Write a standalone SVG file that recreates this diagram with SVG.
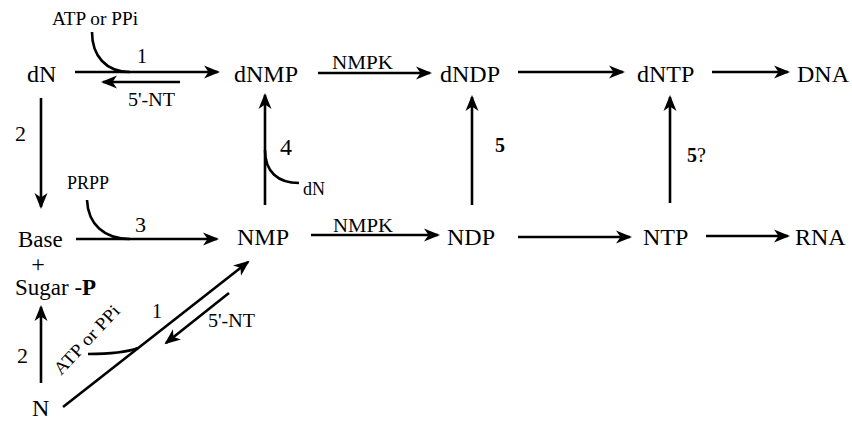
<svg xmlns="http://www.w3.org/2000/svg" width="852" height="421" viewBox="0 0 852 421" font-family="'Liberation Serif', 'Times New Roman', 'DejaVu Serif', serif">
<style>
text{font-family:"Liberation Serif","Times New Roman","DejaVu Serif",serif;fill:#000}
.n{font-size:24px}
.s{font-size:18px}
.b{font-weight:bold}
.c{fill:none;stroke:#000;stroke-width:2.6}
.a{fill:none;stroke:#000;stroke-width:2.6;marker-end:url(#ah)}
</style>
<defs>
<marker id="ah" markerUnits="userSpaceOnUse" markerWidth="20" markerHeight="16" viewBox="-17 -8 20 16" refX="-2" refY="0" orient="auto">
<path d="M0,0 L-16,-6.5 L-11.5,0 L-16,6.5 Z" fill="#000"/>
</marker>
</defs>
<rect width="852" height="421" fill="#fff"/>
<g id="nodes">
<g id="dN"><text class="n" x="27" y="82">dN</text></g>
<g id="dNMP"><text class="n" x="234" y="82">dNMP</text></g>
<g id="dNDP"><text class="n" x="440" y="82">dNDP</text></g>
<g id="dNTP"><text class="n" x="637" y="82">dNTP</text></g>
<g id="DNA"><text class="n" x="797" y="82">DNA</text></g>
<g id="Base"><text class="n" x="18" y="247" style="font-size:23px">Base</text>
<text class="n" x="38" y="272" text-anchor="middle">+</text>
<text class="n" x="15" y="295" style="font-size:23px">Sugar -<tspan class="b">P</tspan></text></g>
<g id="NMP"><text class="n" x="237" y="245">NMP</text></g>
<g id="NDP"><text class="n" x="447" y="245">NDP</text></g>
<g id="NTP"><text class="n" x="643" y="245">NTP</text></g>
<g id="RNA"><text class="n" x="795" y="245">RNA</text></g>
<g id="N"><text class="n" x="32" y="416">N</text></g>
</g>
<g id="connectors">
<path class="a" d="M75,72 H218"/>
<path class="a" d="M180,82 H103"/>
<path class="c" d="M92,32 C92,56 106,72 130,72"/>
<path class="a" d="M318,73 H430"/>
<path class="a" d="M518,72 H623"/>
<path class="a" d="M712,72 H788"/>
<path class="a" d="M76,239 H217"/>
<path class="c" d="M87,200 C88,224 104,239 130,239"/>
<path class="a" d="M311,235 H438"/>
<path class="a" d="M518,237 H630"/>
<path class="a" d="M706,236 H788"/>
<path class="a" d="M41,98 V207"/>
<path class="a" d="M41,383 V307"/>
<path class="a" d="M265,205 V95"/>
<path class="c" d="M265,150 C265,172 278,183 299,183"/>
<path class="a" d="M472,205 V97"/>
<path class="a" d="M670,203 V97"/>
<path class="a" d="M63,407 L248,262"/>
<path class="a" d="M229,293 L166,343"/>
<path class="c" d="M88,354 Q122,354 138,348"/>
</g>
<g id="labels">
<text class="s" x="52" y="25" textLength="86" lengthAdjust="spacingAndGlyphs">ATP or PPi</text>
<text x="137" y="63" style="font-size:20px">1</text>
<text class="s" x="128" y="106" textLength="47" lengthAdjust="spacingAndGlyphs">5'-NT</text>
<text x="15" y="141" style="font-size:22px">2</text>
<text class="s" x="67" y="189">PRPP</text>
<text x="135" y="232" style="font-size:22px">3</text>
<text x="280" y="155" style="font-size:24px">4</text>
<text class="s" x="303" y="195">dN</text>
<text class="s" x="332" y="69" textLength="61" lengthAdjust="spacingAndGlyphs">NMPK</text>
<text class="s" x="333" y="232" textLength="60" lengthAdjust="spacingAndGlyphs">NMPK</text>
<text class="b" x="495" y="152" style="font-size:20px">5</text>
<text x="687" y="162" style="font-size:20px"><tspan class="b">5</tspan>?</text>
<text x="17" y="363" style="font-size:22px">2</text>
<text x="152" y="318" style="font-size:20px">1</text>
<text class="s" x="208" y="327" textLength="47" lengthAdjust="spacingAndGlyphs">5'-NT</text>
<text class="s" transform="translate(61,376) rotate(-47)" textLength="88" lengthAdjust="spacingAndGlyphs">ATP or PPi</text>
</g>
</svg>
